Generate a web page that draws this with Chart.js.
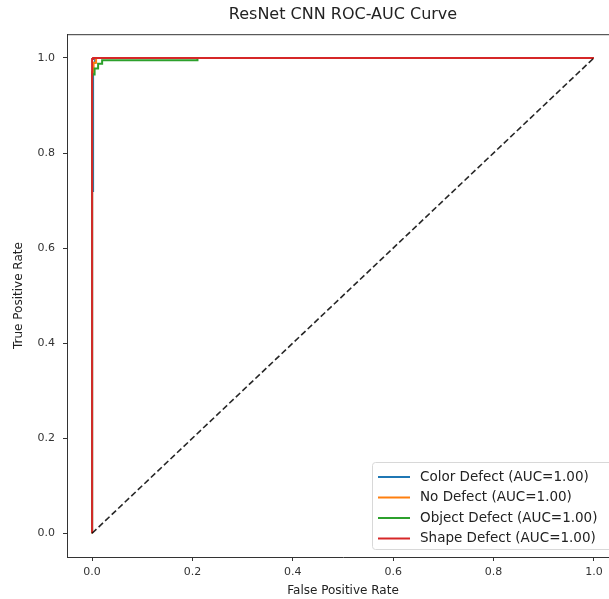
<!DOCTYPE html>
<html>
<head>
<meta charset="utf-8">
<script src="https://cdn.jsdelivr.net/npm/chart.js@4.4.0/dist/chart.umd.min.js"></script>
<style>
  html, body { margin: 0; padding: 0; background: #fff; overflow: hidden; }
  #wrap { width: 640px; height: 599px; }
</style>
</head>
<body>
<div id="wrap"><canvas id="rocChart" width="640" height="599"></canvas></div>
<script>
// ROC points (false positive rate / true positive rate)
var classNames = ['Color Defect', 'No Defect', 'Object Defect', 'Shape Defect'];
var aucValues = [1.00, 1.00, 1.00, 1.00];
var colorFpr = [0, 0, 0.002, 0.002, 0.006, 0.006, 1];
var colorTpr = [0, 0.72, 0.72, 0.99, 0.99, 1, 1];
var noDefectFpr = [0, 0, 0.003, 0.003, 0.008, 0.008, 1];
var noDefectTpr = [0, 0.97, 0.97, 0.99, 0.99, 1, 1];
var objectFpr = [0, 0, 0.005, 0.005, 0.012, 0.012, 0.02, 0.02, 0.21, 0.21, 1];
var objectTpr = [0, 0.965, 0.965, 0.978, 0.978, 0.988, 0.988, 0.995, 0.995, 1, 1];
var shapeFpr = [0, 0, 0.002, 0.002, 1];
var shapeTpr = [0, 0.998, 0.998, 1, 1];
var chanceFpr = [0, 1];
var chanceTpr = [0, 1];
var tickValues = [0, 0.2, 0.4, 0.6, 0.8, 1.0];

var lineColors = ['#1f77b4', '#ff7f0e', '#2ca02c', '#d62728'];

function toPoints(xs, ys) {
  return xs.map(function (x, i) {
    return { x: x, y: ys[i] };
  });
}

var curves = [
  toPoints(colorFpr, colorTpr),
  toPoints(noDefectFpr, noDefectTpr),
  toPoints(objectFpr, objectTpr),
  toPoints(shapeFpr, shapeTpr)
];

var datasets = curves.map(function (pts, i) {
  return {
    label: classNames[i] + ' (AUC=' + aucValues[i].toFixed(2) + ')',
    data: pts,
    borderColor: lineColors[i],
    borderWidth: 2,
    showLine: true,
    pointRadius: 0,
    fill: false,
    order: 4 - i
  };
});

datasets.push({
  label: 'chance',
  data: toPoints(chanceFpr, chanceTpr),
  borderColor: 'rgba(0,0,0,0.85)',
  borderWidth: 1.6,
  borderDash: [6, 3],
  showLine: true,
  pointRadius: 0,
  fill: false,
  order: 0
});

// top spine + legend box inside the axes (lower right)
var framePlugin = {
  id: 'framePlugin',
  afterDraw: function (chart) {
    var ctx = chart.ctx;
    var a = chart.chartArea;
    ctx.save();
    ctx.strokeStyle = '#333';
    ctx.lineWidth = 1;
    ctx.beginPath();
    ctx.moveTo(a.left, a.top + 0.5);
    ctx.lineTo(a.right, a.top + 0.5);
    ctx.moveTo(a.right - 0.5, a.top);
    ctx.lineTo(a.right - 0.5, a.bottom);
    ctx.stroke();

    var bx = 372, by = 462, bw = 242, bh = 87;
    ctx.fillStyle = 'rgba(255,255,255,0.8)';
    ctx.strokeStyle = '#d8d8d8';
    ctx.beginPath();
    ctx.roundRect(bx + 0.5, by + 0.5, bw, bh, 3);
    ctx.fill();
    ctx.stroke();

    ctx.font = '13.5px "DejaVu Sans"';
    ctx.textBaseline = 'middle';
    ctx.textAlign = 'left';
    for (var i = 0; i < classNames.length; i++) {
      var ry = by + 15 + i * 20.5;
      ctx.strokeStyle = lineColors[i];
      ctx.lineWidth = 2;
      ctx.beginPath();
      ctx.moveTo(bx + 6, ry);
      ctx.lineTo(bx + 38, ry);
      ctx.stroke();
      ctx.fillStyle = '#222';
      ctx.fillText(chart.data.datasets[i].label, bx + 48, ry);
    }
    ctx.restore();
  }
};

var tickFormat = function (v) {
  return Number(v).toFixed(1);
};

var ctx = document.getElementById('rocChart').getContext('2d');
var rocChart = new Chart(ctx, {
  type: 'scatter',
  data: { datasets: datasets },
  options: {
    responsive: false,
    animation: false,
    layout: { padding: { top: 0, right: 21, bottom: 0, left: 0 } },
    plugins: {
      legend: { display: false },
      tooltip: { enabled: false },
      title: {
        display: true,
        text: 'ResNet CNN ROC-AUC Curve',
        fullSize: false,
        color: '#222',
        font: { family: 'DejaVu Sans', size: 16, weight: 'normal' },
        padding: { top: 5, bottom: 10 }
      }
    },
    scales: {
      x: {
        type: 'linear',
        min: -0.05,
        max: 1.05,
        afterBuildTicks: function (scale) {
          scale.ticks = tickValues.map(function (v) { return { value: v }; });
        },
        afterFit: function (scale) { scale.height = 42; },
        grid: { drawOnChartArea: false, tickLength: 4, color: '#333' },
        border: { display: true, color: '#333', width: 1 },
        ticks: {
          callback: tickFormat,
          color: '#333',
          padding: 5,
          maxRotation: 0,
          font: { family: 'DejaVu Sans', size: 11 }
        },
        title: {
          display: true,
          text: 'False Positive Rate',
          color: '#222',
          font: { family: 'DejaVu Sans', size: 12 },
          padding: { top: 1, bottom: 1 }
        }
      },
      y: {
        type: 'linear',
        min: -0.05,
        max: 1.05,
        afterBuildTicks: function (scale) {
          scale.ticks = tickValues.map(function (v) { return { value: v }; });
        },
        afterFit: function (scale) { scale.width = 67; },
        grid: { drawOnChartArea: false, tickLength: 4, color: '#333' },
        border: { display: true, color: '#333', width: 1 },
        ticks: {
          callback: tickFormat,
          color: '#333',
          padding: 8,
          font: { family: 'DejaVu Sans', size: 11 }
        },
        title: {
          display: true,
          text: 'True Positive Rate',
          color: '#222',
          font: { family: 'DejaVu Sans', size: 12 },
          padding: { top: 12, bottom: 4 }
        }
      }
    }
  },
  plugins: [framePlugin]
});
</script>
</body>
</html>
